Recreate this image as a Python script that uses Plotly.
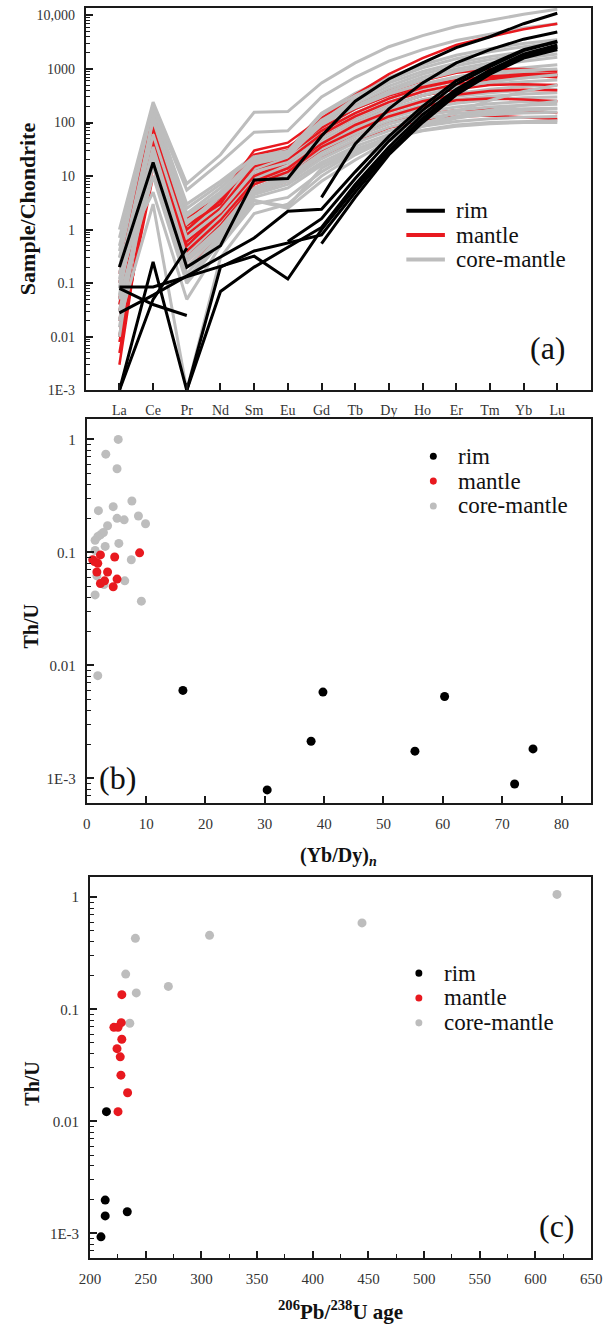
import plotly.graph_objects as go

# ---------------- data ----------------
ELEMENTS = ["La", "Ce", "Pr", "Nd", "Sm", "Eu", "Gd", "Tb", "Dy", "Ho", "Er", "Tm", "Yb", "Lu"]

# chondrite-normalised REE patterns (None = below detection)
rim_ree = [
    [0.2, 18, 0.2, 0.5, 8.5, 9, 56, 250, 650, 1300, 2500, 4000, 7000, 11000],
    [1e-3, 0.25, 1e-3, 0.07, 0.2, None, 1.1, 7, 35, 140, 420, 950, 1900, 2800],
    [0.085, 0.085, None, None, 0.32, 0.12, 1.0, 6, 30, 120, 380, 900, 1800, 2600],
    [0.08, 0.04, 0.025, None, None, 0.6, 1.6, 9, 45, 170, 520, 1100, 2200, 3200],
    [0.028, 0.06, None, None, 0.7, 2.2, 2.4, 12, 55, 200, 600, 1200, 2300, 3300],
    [1e-3, 0.05, 0.45, None, None, None, 0.55, 4, 25, 100, 330, 800, 1600, 2300],
    [None, None, 1e-3, 0.2, 0.4, None, 0.8, 5, 28, 110, 350, 850, 1700, 2500],
    [None, None, None, None, None, None, 4, 40, 180, 550, 1300, 2300, 3600, 4900],
]
rim_connect = [False, True, True, False, True, False, True, False]

mantle_ree = [
    [0.15, 140, 1.7, 4, 30, 42, 120, 330, 800, 1600, 2800, 4000, 5500, 7000],
    [0.05, 100, 1.2, 3, 25, 35, 90, 200, 380, 600, 850, 1000, 1000, 900],
    [0.01, 60, 0.8, 2.5, 15, 25, 70, 150, 280, 450, 600, 700, 750, 700],
    [0.003, 40, 0.5, 2, 10, 18, 50, 110, 200, 320, 420, 500, 520, 500],
    [0.02, 30, 0.4, 1.5, 8, 14, 40, 90, 160, 250, 330, 390, 410, 400],
    [0.005, 20, 0.3, 1.2, 7, 12, 35, 70, 130, 200, 260, 280, 270, 250],
    [0.1, 80, 1.0, 3.5, 20, 30, 80, 180, 320, 480, 620, 720, 800, 820],
    [0.03, 15, 0.25, 1, 6, 10, 28, 55, 95, 140, 170, 180, 170, 150],
    [0.008, 10, 0.2, 0.8, 5, 8, 22, 45, 80, 110, 130, 135, 125, 115],
    [0.04, 50, 0.6, 2, 12, 20, 60, 130, 240, 380, 520, 640, 720, 760],
]

core_mantle_ree = [
    [1.0, 240, 7.2, 25, 155, 160, 550, 1300, 2600, 4200, 6200, 8200, 10500, 13000],
    [0.7, 200, 5.5, 18, 66, 70, 300, 700, 1400, 2300, 3400, 4500, 5800, 7000],
    [0.5, 180, 3, 8, 24, 30, 150, 350, 700, 1200, 1800, 2400, 3000, 3500],
    [0.3, 150, 2, 6, 22, 28, 120, 280, 550, 900, 1300, 1700, 2100, 2500],
    [0.2, 120, 1.5, 5, 20, 26, 100, 220, 420, 700, 1000, 1300, 1600, 1900],
    [0.1, 100, 1.2, 4, 18, 24, 80, 180, 330, 520, 720, 900, 1050, 1200],
    [0.08, 90, 1.0, 3.5, 16, 22, 70, 150, 280, 430, 600, 750, 850, 950],
    [0.05, 80, 0.9, 3, 14, 20, 60, 130, 240, 370, 500, 600, 680, 750],
    [0.04, 70, 0.8, 2.5, 13, 19, 55, 115, 210, 320, 430, 520, 580, 620],
    [0.03, 60, 0.6, 2, 11, 17, 48, 100, 180, 270, 350, 420, 470, 500],
    [0.02, 55, 0.5, 1.8, 10, 15, 42, 90, 160, 240, 310, 360, 400, 420],
    [0.015, 50, 0.45, 1.6, 9, 14, 38, 80, 140, 210, 270, 310, 340, 360],
    [0.01, 45, 0.4, 1.4, 8, 12, 34, 70, 120, 180, 230, 265, 290, 300],
    [0.05, 40, 0.35, 1.2, 7, 11, 30, 62, 105, 155, 195, 225, 245, 255],
    [0.08, 35, 0.3, 1.1, 6, 10, 27, 55, 95, 135, 170, 195, 210, 220],
    [0.03, 30, 0.25, 1, 5.5, 9, 24, 48, 82, 118, 148, 168, 180, 185],
    [0.2, 25, 0.2, 0.9, 5, 8, 21, 42, 70, 100, 125, 140, 150, 155],
    [0.02, 20, 0.15, 0.8, 4.5, 7, 18, 36, 60, 85, 105, 118, 125, 130],
    [0.1, 15, 0.12, 0.7, 4, 6, 16, 32, 52, 72, 90, 100, 105, 108],
    [0.05, 10, 0.1, 0.6, 3.5, 2.7, 14, 30, 50, 70, 85, 95, 100, 100],
    [0.3, 5, 0.05, 0.5, 3, 4, 12, 28, 55, 90, 130, 170, 210, 250],
    [0.02, 3, 1e-3, 0.3, 2, 3, 10, 25, 50, 85, 120, 150, 170, 180],
    [0.01, 150, 1.8, 5, 21, 27, 110, 250, 480, 800, 1150, 1500, 1850, 2200],
    [0.15, 110, 1.3, 4.5, 19, 25, 90, 200, 380, 620, 900, 1150, 1400, 1650],
    [0.4, 200, 2.5, 7, 23, 29, 140, 320, 620, 1050, 1550, 2100, 2600, 3100],
    [0.06, 130, 1.4, 4.2, 17, 23, 95, 190, 340, 520, 700, 850, 950, 1000],
    [0.12, 60, 0.7, 2.2, 12, 18, 50, 110, 200, 320, 450, 570, 680, 780],
    [None, None, None, None, 3.5, 2.5, 8, 20, 45, 90, 160, 260, 380, 500],
]

# (Yb/Dy)n versus Th/U
rim_ybdy = [16.2, 30.4, 37.8, 39.8, 55.3, 60.3, 72.1, 75.2]
rim_thu_b = [0.0060, 0.00079, 0.00213, 0.0058, 0.00174, 0.0053, 0.00089, 0.00182]
mantle_ybdy = [1.0, 1.85, 2.3, 1.3, 4.7, 8.9, 1.7, 3.5, 2.3, 3.0, 4.45, 5.1]
mantle_thu_b = [0.086, 0.080, 0.095, 0.083, 0.091, 0.099, 0.067, 0.067, 0.053, 0.056, 0.0496, 0.058]
core_ybdy = [5.3, 3.2, 5.1, 1.96, 4.45, 7.6, 5.1, 6.3, 8.7, 9.9, 3.5, 2.8, 2.3,
             1.85, 1.4, 3.1, 5.4, 1.4, 7.5, 1.7, 2.9, 6.4, 1.4, 9.2, 1.85]
core_thu_b = [1.0, 0.74, 0.55, 0.234, 0.254, 0.285, 0.20, 0.194, 0.21, 0.179, 0.172, 0.15, 0.143,
              0.138, 0.128, 0.113, 0.12, 0.104, 0.086, 0.062, 0.052, 0.056, 0.042, 0.037, 0.0081]

# 206Pb/238U age versus Th/U
rim_age = [214.7, 213.6, 213.6, 233.4, 209.8]
rim_thu_c = [0.0122, 0.00198, 0.00143, 0.00156, 0.00093]
mantle_age = [228.5, 221.4, 225.1, 228.0, 228.5, 224.2, 227.1, 227.7, 233.7, 225.1]
mantle_thu_c = [0.135, 0.069, 0.069, 0.076, 0.054, 0.0445, 0.0376, 0.0258, 0.018, 0.0122]
core_age = [240.7, 307.3, 232.0, 270.3, 241.5, 235.7, 444.2, 619.3]
core_thu_c = [0.43, 0.457, 0.206, 0.160, 0.14, 0.075, 0.59, 1.06]

GROUPS = ["rim", "mantle", "core-mantle"]

# ---------------- style ----------------
W, H = 615, 1337
BLACK = "#000000"
RED = "#e8191f"
GREY = "#bdbdbd"
GROUP_COLORS = [BLACK, RED, GREY]
SERIF = "Liberation Serif, Times New Roman, serif"
AXIS_COLOR = "#1a1a1a"
TEXT_COLOR = "#111111"


def xdom(left, right):
    return [left / W, right / W]


def ydom(top, bottom):
    return [1 - bottom / H, 1 - top / H]


fig = go.Figure()

# ---- panel (a): REE patterns ----
def ree_trace(vals, color, width, connect=False):
    return go.Scatter(x=ELEMENTS, y=vals, mode="lines", connectgaps=connect,
                      line=dict(color=color, width=width), showlegend=False,
                      hoverinfo="skip", xaxis="x", yaxis="y")

half = len(core_mantle_ree) // 2
for vals in core_mantle_ree[:half]:
    fig.add_trace(ree_trace(vals, GREY, 3))
for vals in mantle_ree:
    fig.add_trace(ree_trace(vals, RED, 2.5))
for vals in core_mantle_ree[half:]:
    fig.add_trace(ree_trace(vals, GREY, 3))
for vals, con in zip(rim_ree, rim_connect):
    fig.add_trace(ree_trace(vals, BLACK, 3, con))

# ---- panels (b) and (c): scatter ----
def pts(x, y, color, xa, ya):
    return go.Scatter(x=x, y=y, mode="markers", showlegend=False,
                      marker=dict(color=color, size=9, line=dict(width=0)),
                      xaxis=xa, yaxis=ya)

fig.add_trace(pts(core_ybdy, core_thu_b, GREY, "x2", "y2"))
fig.add_trace(pts(mantle_ybdy, mantle_thu_b, RED, "x2", "y2"))
fig.add_trace(pts(rim_ybdy, rim_thu_b, BLACK, "x2", "y2"))

fig.add_trace(pts(core_age, core_thu_c, GREY, "x3", "y3"))
fig.add_trace(pts(mantle_age, mantle_thu_c, RED, "x3", "y3"))
fig.add_trace(pts(rim_age, rim_thu_c, BLACK, "x3", "y3"))

# ---------------- axes ----------------
tick_font = dict(family=SERIF, size=14, color="#333333")
tick_font_bc = dict(family=SERIF, size=15, color="#333333")

frame = dict(showline=True, linecolor=AXIS_COLOR, linewidth=2, mirror=True,
             showgrid=False, zeroline=False, ticks="inside", tickcolor=AXIS_COLOR,
             tickwidth=1.5, ticklen=7)


def log_minor(lo, hi):
    vals = [m * 10 ** e for e in range(lo, hi) for m in range(2, 10)]
    return dict(ticks="inside", ticklen=4, tickcolor=AXIS_COLOR, tickwidth=1.2,
                tickmode="array", tickvals=vals, showgrid=False)


fig.update_layout(
    xaxis=dict(frame, domain=xdom(77.5, 601.5), anchor="y", type="category",
               categoryorder="array", categoryarray=ELEMENTS, range=[-1, 14],
               tickfont=tick_font, ticklabelstandoff=6),
    yaxis=dict(frame, domain=ydom(7.8, 392.7), anchor="x", type="log",
               range=[-3, 4.143], tickmode="array",
               tickvals=[1e-3, 1e-2, 1e-1, 1, 10, 100, 1000, 10000],
               ticktext=["1E-3", "0.01", "0.1", "1", "10", "100", "1000", "10,000"],
               minor=log_minor(-3, 5), tickfont=tick_font, ticklabelstandoff=6),
    xaxis2=dict(frame, domain=xdom(78.6, 601.7), anchor="y2", range=[0, 85],
                tickmode="array", tickvals=list(range(0, 90, 10)),
                tickfont=tick_font_bc, ticklabelstandoff=6),
    yaxis2=dict(frame, domain=ydom(421.7, 808), anchor="x2", type="log",
                range=[-3.22, 0.179], tickmode="array",
                tickvals=[1e-3, 1e-2, 1e-1, 1], ticktext=["1E-3", "0.01", "0.1", "1"],
                minor=log_minor(-4, 1), tickfont=tick_font_bc, ticklabelstandoff=6),
    xaxis3=dict(frame, domain=xdom(82, 601.7), anchor="y3", range=[200, 650],
                tickmode="array", tickvals=list(range(200, 700, 50)),
                minor=dict(ticks="inside", ticklen=4, tickcolor=AXIS_COLOR,
                           tickwidth=1.2, dtick=25, showgrid=False),
                tickfont=tick_font_bc, ticklabelstandoff=6),
    yaxis3=dict(frame, domain=ydom(882.7, 1266), anchor="x3", type="log",
                range=[-3.224, 0.177], tickmode="array",
                tickvals=[1e-3, 1e-2, 1e-1, 1], ticktext=["1E-3", "0.01", "0.1", "1"],
                minor=log_minor(-4, 1), tickfont=tick_font_bc, ticklabelstandoff=6),
)


# ---------------- text helpers ----------------
def text(x, y, s, size, angle=0, anchor="center"):
    fig.add_annotation(x=x / W, y=1 - y / H, xref="paper", yref="paper", text=s,
                       showarrow=False, textangle=angle, xanchor=anchor,
                       yanchor="middle",
                       font=dict(family=SERIF, size=size, color=TEXT_COLOR))


# ---------------- legends ----------------
LEG_SIZE = 23


def line_legend(x0, x1, xt, rows):
    for name, col, y in zip(GROUPS, GROUP_COLORS, rows):
        fig.add_shape(type="line", xref="paper", yref="paper",
                      x0=x0 / W, x1=x1 / W, y0=1 - y / H, y1=1 - y / H,
                      line=dict(color=col, width=4))
        text(xt, y, name, LEG_SIZE, anchor="left")


def marker_legend(xm, xt, rows, r=3.6):
    for name, col, y in zip(GROUPS, GROUP_COLORS, rows):
        fig.add_shape(type="circle", xref="paper", yref="paper",
                      x0=(xm - r) / W, x1=(xm + r) / W,
                      y0=1 - (y + r) / H, y1=1 - (y - r) / H,
                      fillcolor=col, line=dict(width=0))
        text(xt, y, name, LEG_SIZE, anchor="left")


line_legend(410, 450, 459, [212, 236.5, 261])
marker_legend(438, 461, [459, 484, 509])
marker_legend(423, 447, [979, 1004, 1029])

# ---------------- titles and panel labels ----------------
text(17, 210, "<b>Sample/Chondrite</b>", 22, angle=-90)
text(21, 630, "<b>Th/U</b>", 20, angle=-90)
text(22, 1090, "<b>Th/U</b>", 20, angle=-90)
text(340, 862, "<b>(Yb/Dy)</b><sub><b><i>n</i></b></sub>", 20)
text(342, 1318, "<b><sup>206</sup>Pb/<sup>238</sup>U age</b>", 21)

text(557, 350, "(a)", 32)
text(110, 783, "(b)", 32)
text(566, 1233, "(c)", 32)

fig.update_layout(width=W, height=H, margin=dict(l=0, r=0, t=0, b=0),
                  paper_bgcolor="white", plot_bgcolor="white",
                  font=dict(family=SERIF, color=TEXT_COLOR), showlegend=False)

fig.write_html("out.html")
